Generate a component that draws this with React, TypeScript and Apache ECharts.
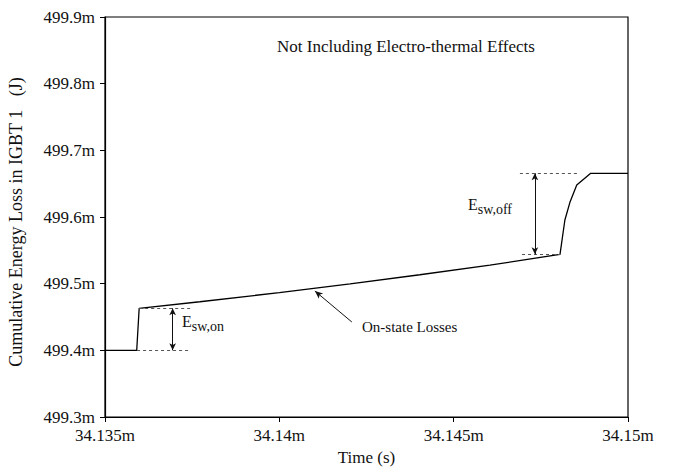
import React, { useEffect, useRef } from "react";
import * as echarts from "echarts";

// Time in ms (labels carry "m"), cumulative energy loss in mJ
const timeMs = [34.135, 34.13591, 34.13598, 34.13772, 34.14, 34.14203, 34.14403, 34.14604, 34.14805, 34.14819, 34.14834, 34.14853, 34.14893, 34.15];
const lossMJ = [499.4, 499.4, 499.463, 499.4729, 499.4866, 499.4997, 499.5134, 499.5278, 499.544, 499.5955, 499.623, 499.648, 499.6655, 499.6655];

const xTicks = [34.135, 34.14, 34.145, 34.15];
const yTicks = [499.3, 499.4, 499.5, 499.6, 499.7, 499.8, 499.9];

const titleText = "Not Including Electro-thermal Effects";
const xName = "Time (s)";
const yName = "Cumulative Energy Loss in IGBT 1   (J)";

// annotation geometry in data units
const onLow = 499.4;
const onHigh = 499.463;
const onDashX = [34.13592, 34.13744];
const onArrowX = 34.13694;
const offLow = 499.544;
const offHigh = 499.6655;
const offDashHighX = [34.1469, 34.14854];
const offDashLowX = [34.14696, 34.14805];
const offArrowX = 34.14733;
const onStateArrow = [[34.14208, 499.4425], [34.14102, 499.489]];
const onLabelPos = [34.13721, 499.441];
const offLabelPos = [34.14541, 499.6155];
const stateLabelPos = [34.14237, 499.435];

const FONT = "'Liberation Serif', 'Times New Roman', serif";
const INK = "#111";

export default function App() {
  const ref = useRef<HTMLDivElement>(null);
  useEffect(() => {
    if (!ref.current) return;
    const chart = echarts.init(ref.current, undefined, { renderer: "svg" });
    const dashStyle = { color: "#555", width: 1, type: [3, 3] as any };
    const arrowStyle = { color: INK, width: 1, type: "solid" as any };
    const subRich = {
      e: { fontSize: 16, fontFamily: FONT, color: INK, lineHeight: 20, verticalAlign: "top" as any },
      s: { fontSize: 14, fontFamily: FONT, color: INK, lineHeight: 13, verticalAlign: "bottom" as any },
    };
    chart.setOption({
      animation: false,
      backgroundColor: "#fff",
      title: {
        text: titleText,
        left: 272,
        top: 33,
        textStyle: { fontFamily: FONT, fontSize: 17, fontWeight: "normal", color: INK },
      },
      grid: {
        left: 105,
        right: 45,
        top: 17,
        bottom: 51,
        show: true,
        borderColor: "#000",
        borderWidth: 1.2,
        outerBoundsMode: "none",
      } as any,
      xAxis: {
        type: "value",
        min: xTicks[0],
        max: xTicks[xTicks.length - 1],
        interval: 0.005,
        name: xName,
        nameLocation: "middle",
        nameGap: 32,
        nameTextStyle: { fontFamily: FONT, fontSize: 17, color: INK },
        axisLine: { show: true, lineStyle: { color: "#000", width: 1.2 } },
        axisTick: { show: true, length: 5, lineStyle: { color: "#000" } },
        splitLine: { show: false },
        axisLabel: {
          fontFamily: FONT,
          fontSize: 17,
          color: INK,
          margin: 10,
          formatter: (v: number) => parseFloat(v.toFixed(3)) + "m",
        },
      },
      yAxis: {
        type: "value",
        min: yTicks[0],
        max: yTicks[yTicks.length - 1],
        interval: 0.1,
        name: yName,
        nameLocation: "middle",
        nameGap: 80,
        nameTextStyle: { fontFamily: FONT, fontSize: 18, color: INK, padding: [0, 10, 0, 0] },
        axisLine: { show: true, lineStyle: { color: "#000", width: 1.2 } },
        axisTick: { show: true, length: 5, lineStyle: { color: "#000" } },
        splitLine: { show: false },
        axisLabel: {
          fontFamily: FONT,
          fontSize: 17,
          color: INK,
          margin: 10,
          formatter: (v: number) => v.toFixed(1) + "m",
        },
      },
      series: [
        {
          type: "line",
          data: timeMs.map((t, i) => [t, lossMJ[i]]),
          symbol: "none",
          lineStyle: { color: "#000", width: 1.3 },
          silent: true,
          markLine: {
            silent: true,
            animation: false,
            label: { show: false },
            emphasis: { disabled: true },
            symbol: ["none", "none"],
            data: [
              [{ coord: [onDashX[0], onLow], lineStyle: dashStyle }, { coord: [onDashX[1], onLow] }],
              [{ coord: [onDashX[0] + 0.00006, onHigh], lineStyle: dashStyle }, { coord: [onDashX[1], onHigh] }],
              [{ coord: [offDashHighX[0], offHigh], lineStyle: dashStyle }, { coord: [offDashHighX[1], offHigh] }],
              [{ coord: [offDashLowX[0], offLow], lineStyle: dashStyle }, { coord: [offDashLowX[1], offLow] }],
              [
                { coord: [onArrowX, onHigh], lineStyle: arrowStyle, symbol: "arrow", symbolSize: [5, 7] },
                { coord: [onArrowX, onLow], symbol: "arrow", symbolSize: [5, 7] },
              ],
              [
                { coord: [offArrowX, offHigh], lineStyle: arrowStyle, symbol: "arrow", symbolSize: [5, 7] },
                { coord: [offArrowX, offLow], symbol: "arrow", symbolSize: [5, 7] },
              ],
              [
                { coord: onStateArrow[0], lineStyle: arrowStyle, symbol: "none" },
                { coord: onStateArrow[1], symbol: "arrow", symbolSize: [5, 8] },
              ],
            ] as any,
          },
          markPoint: {
            silent: true,
            symbol: "circle",
            symbolSize: 0,
            data: [
              {
                coord: onLabelPos,
                label: {
                  show: true,
                  position: [0, 0],
                  align: "left",
                  verticalAlign: "middle",
                  formatter: "{e|E}{s|sw,on}",
                  rich: subRich,
                },
              },
              {
                coord: offLabelPos,
                label: {
                  show: true,
                  position: [0, 0],
                  align: "left",
                  verticalAlign: "middle",
                  formatter: "{e|E}{s|sw,off}",
                  rich: subRich,
                },
              },
              {
                coord: stateLabelPos,
                label: {
                  show: true,
                  position: [0, 0],
                  align: "left",
                  verticalAlign: "middle",
                  formatter: "On-state Losses",
                  fontFamily: FONT,
                  fontSize: 15,
                  color: INK,
                },
              },
            ] as any,
          },
        },
      ],
    });
    return () => chart.dispose();
  }, []);
  return (
    <div
      ref={ref}
      style={{ position: "fixed", left: 0, top: 0, width: 673, height: 468, background: "#fff" }}
    />
  );
}
